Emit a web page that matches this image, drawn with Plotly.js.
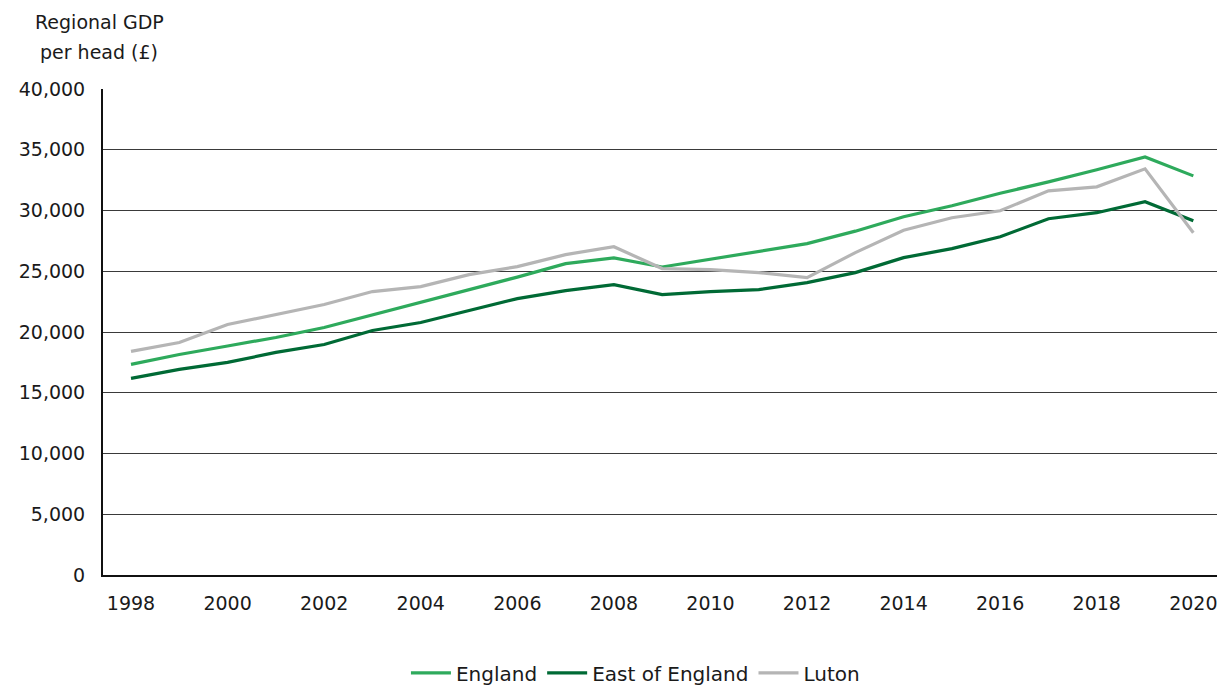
<!DOCTYPE html>
<html>
<head>
<meta charset="utf-8">
<script src="https://cdn.plot.ly/plotly-3.0.1.min.js"></script>
<style>html,body{margin:0;padding:0;background:#fff;}#chart{width:1222px;height:686px;}</style>
</head>
<body>
<div id="chart"></div>
<script>
const years = [1998,1999,2000,2001,2002,2003,2004,2005,2006,2007,2008,2009,2010,2011,2012,2013,2014,2015,2016,2017,2018,2019,2020];
const england = [17330,18150,18850,19550,20370,21400,22400,23450,24520,25630,26100,25350,26000,26610,27270,28300,29490,30390,31420,32360,33350,34410,32850];
const eastOfEngland = [16180,16920,17500,18320,18970,20120,20780,21770,22750,23410,23900,23080,23330,23490,24070,24890,26120,26860,27840,29320,29820,30720,29160];
const luton = [18400,19140,20620,21440,22260,23330,23740,24720,25380,26370,27020,25220,25130,24890,24480,26530,28380,29400,29980,31620,31950,33430,28170];
const seriesNames = ["England","East of England","Luton"];
const yTitleLines = ["Regional GDP","per head (£)"];

const colors = ["#2eaa5c","#006a35","#b5b5b5"];
const data = [england, eastOfEngland, luton].map((vals,i)=>({
  x: years, y: vals, name: seriesNames[i], type: "scatter", mode: "lines",
  line: {color: colors[i], width: 3.2}
}));

const font = "'DejaVu Sans', 'Open Sans', sans-serif";
const txt = "#1a1a1a";
const layout = {
  width: 1222, height: 686,
  margin: {l: 103, r: 5, t: 89, b: 111},
  paper_bgcolor: "#fff", plot_bgcolor: "#fff",
  font: {family: font, size: 19, color: txt},
  xaxis: {
    range: [1997.42, 2020.49], tickvals: years.filter(y=>y%2===0),
    ticktext: years.filter(y=>y%2===0).map(String),
    showgrid: false, zeroline: false, showline: true, linecolor: "#111", linewidth: 2,
    ticks: "", ticklabelstandoff: 10, tickfont: {size: 19, family: font, color: txt},
    automargin: false
  },
  yaxis: {
    range: [0, 40000], dtick: 5000, tickformat: ",d",
    showgrid: true, gridcolor: "#3a3a3a", gridwidth: 1,
    zeroline: false, showline: true, linecolor: "#111", linewidth: 2,
    ticks: "", ticklabelstandoff: 12, tickfont: {size: 19, family: font, color: txt},
    automargin: false
  },
  legend: {
    orientation: "h", x: 0.52, xanchor: "center", xref: "container",
    y: 0.019, yanchor: "middle", yref: "container",
    font: {size: 20, family: font, color: txt}, itemwidth: 40, tracegroupgap: 0
  },
  annotations: yTitleLines.map((t,i)=>({
    text: t, xref: "paper", yref: "paper", x: 0, y: 1.0,
    xanchor: "center", yanchor: "middle", yshift: 67 - 30*i, xshift: -4, showarrow: false,
    font: {size: 19, family: font, color: txt}
  }))
};
Plotly.newPlot("chart", data, layout, {displayModeBar: false, staticPlot: true});
</script>
</body>
</html>
